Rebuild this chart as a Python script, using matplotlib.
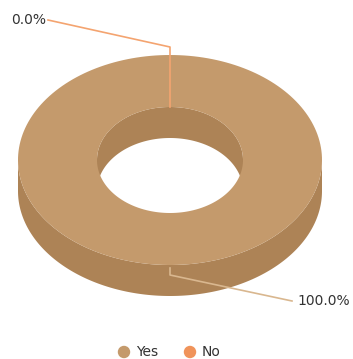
import numpy as np
import matplotlib.pyplot as plt
from matplotlib.patches import Polygon

# datos del gráfico
categorias = ["Yes", "No"]
valores = [100, 0]
colores_top = ["#C49A6C", "#F0935A"]
colores_lado = ["#AD8356", "#D67A44"]
colores_linea = ["#D9B78F", "#F4A470"]

# geometría del donut (en píxeles)
cx, cy = 170, 160
a_ext, b_ext = 152, 105
a_int, b_int = 73, 53
prof = 31


def arco(a, b, t0, t1, dy=0, n=200):
    t = np.radians(np.linspace(t0, t1, n))
    return np.column_stack([cx + a * np.sin(t), cy - b * np.cos(t) + dy])


fig = plt.figure(figsize=(3.53, 3.59), dpi=100)
ax = fig.add_axes([0, 0, 1, 1])
ax.set_xlim(0, 353)
ax.set_ylim(359, 0)
ax.axis("off")

total = sum(valores)
inicio = 0.0
rebanadas = []
for cat, v, ct, cl in zip(categorias, valores, colores_top, colores_lado):
    ang = 360.0 * v / total
    rebanadas.append((inicio, inicio + ang))
    inicio += ang

# paredes laterales
for (t0, t1), v, cl in zip(rebanadas, valores, colores_lado):
    if v <= 0:
        continue
    # pared exterior (frente: 90..270)
    s0, s1 = max(t0, 90), min(t1, 270)
    if s1 > s0:
        pts = np.vstack([arco(a_ext, b_ext, s0, s1), arco(a_ext, b_ext, s1, s0, prof)])
        ax.add_patch(Polygon(pts, closed=True, fc=cl, ec="none"))
    # pared interior (fondo del agujero: -90..90 -> 270..450)
    for r0, r1 in [(0, 90), (270, 360)]:
        s0, s1 = max(t0, r0), min(t1, r1)
        if s1 > s0:
            pts = np.vstack([arco(a_int, b_int, s0, s1), arco(a_int, b_int, s1, s0, prof)])
            ax.add_patch(Polygon(pts, closed=True, fc=cl, ec="none", lw=0))

# cara superior
for (t0, t1), v, ct in zip(rebanadas, valores, colores_top):
    if v <= 0:
        continue
    pts = np.vstack([arco(a_ext, b_ext, t0, t1), arco(a_int, b_int, t1, t0)])
    ax.add_patch(Polygon(pts, closed=True, fc=ct, ec="none", lw=0))

# líneas guía y etiquetas
for cat, v, (t0, t1), cl in zip(categorias, valores, rebanadas, colores_linea):
    medio = (t0 + t1) / 2
    texto = f"{100.0 * v / total:.1f}%"
    if np.cos(np.radians(medio)) > 0:
        xs = [cx, cx, 48]
        ys = [cy - b_int, cy - b_ext - 8, 20]
        ax.plot(xs, ys, color=cl, lw=1.2, solid_joinstyle="round")
        ax.text(46, 20, texto, ha="right", va="center", fontsize=10, color="#333333")
    else:
        xs = [cx, cx, 292]
        ys = [cy + b_ext + 3, cy + b_ext + 10, 301]
        ax.plot(xs, ys, color=cl, lw=1.2, solid_joinstyle="round")
        ax.text(297, 301, texto, ha="left", va="center", fontsize=10, color="#333333")

# leyenda
ley_x = [124, 190]
for x, cat, c in zip(ley_x, categorias, colores_top):
    ax.scatter([x], [352], s=80, color=c, edgecolors="none")
    ax.text(x + 12, 352, cat, ha="left", va="center", fontsize=10, color="#333333")

fig.savefig("out.png", dpi=100)
